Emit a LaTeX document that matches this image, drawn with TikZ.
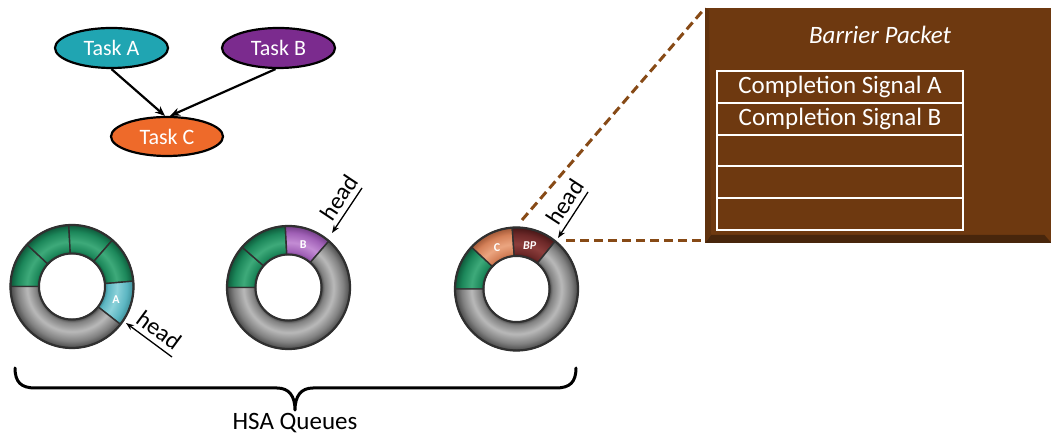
\documentclass[tikz,border=0pt]{standalone}
\usepackage{fontspec}
\setmainfont{Carlito}
\usetikzlibrary{calc,arrows.meta,shapes.geometric}

% task colours
\definecolor{taskAcol}{RGB}{32,165,178}
\definecolor{taskBcol}{RGB}{123,43,142}
\definecolor{taskCcol}{RGB}{238,106,42}
% queue slot colours (base / light / dark)
\definecolor{gBase}{RGB}{28,135,90}
\definecolor{gLight}{RGB}{62,170,122}
\definecolor{gDark}{RGB}{14,88,58}
\definecolor{yBase}{RGB}{128,128,128}
\definecolor{yLight}{RGB}{185,185,185}
\definecolor{yDark}{RGB}{72,72,72}
\definecolor{aBase}{RGB}{92,182,194}
\definecolor{aLight}{RGB}{140,210,218}
\definecolor{aDark}{RGB}{60,140,150}
\definecolor{bBase}{RGB}{160,96,182}
\definecolor{bLight}{RGB}{195,140,212}
\definecolor{bDark}{RGB}{115,62,135}
\definecolor{cBase}{RGB}{212,128,88}
\definecolor{cLight}{RGB}{235,165,128}
\definecolor{cDark}{RGB}{160,88,55}
\definecolor{pBase}{RGB}{108,40,40}
\definecolor{pLight}{RGB}{140,62,60}
\definecolor{pDark}{RGB}{70,22,22}
\definecolor{ringedge}{RGB}{48,48,48}
% barrier packet colours
\definecolor{bpbrown}{RGB}{110,57,16}
\definecolor{bpdark}{RGB}{72,38,12}
\definecolor{bpedge}{RGB}{96,50,14}
\definecolor{linkbrown}{RGB}{135,74,22}

% radial tube-like shading: the path's box maps to radius 25bp,
% so 25bp = outer radius and ~13.4bp = inner radius
\newcommand\mkslotshade[4]{%
  \pgfdeclareradialshading{#1}{\pgfpoint{0bp}{0bp}}{%
    color(0bp)=(#4); color(13.4bp)=(#4); color(14.6bp)=(#2);
    color(18.3bp)=(#3); color(22.3bp)=(#2); color(25bp)=(#4); color(50bp)=(#4)}}
\mkslotshade{slotG}{gBase}{gLight}{gDark}
\mkslotshade{slotY}{yBase}{yLight}{yDark}
\mkslotshade{slotA}{aBase}{aLight}{aDark}
\mkslotshade{slotB}{bBase}{bLight}{bDark}
\mkslotshade{slotC}{cBase}{cLight}{cDark}
\mkslotshade{slotP}{pBase}{pLight}{pDark}

% one slot of a ring queue: centre, start angle, end angle, shading
\newcommand\qslot[4]{%
  \begin{scope}
    \clip ($(#1)+(#2:61.5)$) arc[start angle=#2,end angle=#3,radius=61.5]
      -- ($(#1)+(#3:33)$) arc[start angle=#3,end angle=#2,radius=33] -- cycle;
    \shade[shading=#4] (#1) circle[radius=61.5];
  \end{scope}
  \draw[slotline] ($(#1)+(#2:61.5)$) arc[start angle=#2,end angle=#3,radius=61.5]
      -- ($(#1)+(#3:33)$) arc[start angle=#3,end angle=#2,radius=33] -- cycle;
}
\newcommand\qrim[1]{%
  \draw[ringedge, line width=2.2pt] (#1) circle[radius=61.5];
  \draw[ringedge, line width=2pt] (#1) circle[radius=33];
}

\begin{document}
\begin{tikzpicture}[x=1pt,y=1pt,
  task/.style={ellipse, draw=black, line width=2.2pt, minimum width=113pt,
    minimum height=40pt, inner sep=0pt, text=white,
    font=\fontsize{22}{24}\selectfont},
  dep/.style={-{Stealth[length=10pt,width=8pt]}, line width=2.2pt},
  headarrow/.style={-{Stealth[length=8pt,width=6pt]}, line width=1.3pt},
  headlabel/.style={font=\fontsize{24}{26}\selectfont, sloped, above=3pt, inner sep=2pt},
  slotline/.style={draw=ringedge, line width=1.4pt, line join=round},
  slotlabel/.style={text=white, font=\fontsize{12}{14}\selectfont\bfseries},
  link/.style={draw=linkbrown, line width=3pt, dash pattern=on 9pt off 5pt},
  packetrow/.style={draw=white, line width=2pt, minimum width=246pt,
    minimum height=31.8pt, inner sep=0pt, text=white,
    font=\fontsize{25}{27}\selectfont, anchor=north},
]
\useasboundingbox (0,0) rectangle (1051,438);

% ---- task dependency graph ----
\node[task, fill=taskAcol] (ta) at (111.5,390) {Task A};
\node[task, fill=taskBcol] (tb) at (278.5,390) {Task B};
\node[task, fill=taskCcol, minimum width=112pt, minimum height=39pt] (tc) at (167,301.5) {Task C};
\draw[dep] (ta.south) -- ([xshift=-2]tc.north);
\draw[dep] ([xshift=-3]tb.south) -- ([xshift=3]tc.north);

% ---- ring queues ----
\coordinate (q1) at (72,151.5);
\coordinate (q2) at (288.5,150.5);
\coordinate (q3) at (516.5,149);

% queue 1
\qslot{q1}{180}{137}{slotG}
\qslot{q1}{137}{93}{slotG}
\qslot{q1}{93}{49}{slotG}
\qslot{q1}{49}{5}{slotG}
\qslot{q1}{5}{-38}{slotA}
\qslot{q1}{-38}{-180}{slotY}
\qrim{q1}
\node[slotlabel] (la) at ($(q1)+(-17:46)$) {A};

% queue 2
\qslot{q2}{180}{139}{slotG}
\qslot{q2}{139}{93}{slotG}
\qslot{q2}{93}{49}{slotB}
\qslot{q2}{49}{-180}{slotY}
\qrim{q2}
\node[slotlabel] (lb) at ($(q2)+(71:45)$) {B};

% queue 3
\qslot{q3}{180}{137}{slotG}
\qslot{q3}{137}{94}{slotC}
\qslot{q3}{94}{51}{slotP}
\qslot{q3}{51}{-180}{slotY}
\qrim{q3}
\node[slotlabel] (lc) at ($(q3)+(115:46)$) {C};
\node[slotlabel, font=\fontsize{12}{14}\selectfont\bfseries\itshape] (lp) at ($(q3)+(73:45)$) {BP};

% head pointers
\coordinate (h1s) at (172,81);  \coordinate (h1e) at (126,115);
\coordinate (h2s) at (362,250); \coordinate (h2e) at (332,205);
\coordinate (h3s) at (588,246); \coordinate (h3e) at (558,200);
\draw[headarrow] (h1s) -- (h1e) node[headlabel, pos=0.46] (hd1) {head};
\draw[headarrow] (h2s) -- (h2e) node[headlabel, pos=0.38] (hd2) {head};
\draw[headarrow] (h3s) -- (h3e) node[headlabel, pos=0.38] (hd3) {head};

% ---- barrier packet ----
\node[fill=bpbrown, minimum width=346pt, minimum height=235pt, inner sep=0pt,
      anchor=south west] (bp) at (705,195) {};
\fill[bpdark] (bp.south west) -- (bp.south east) -- ($(bp.south east)+(-7,8)$)
  -- ($(bp.south west)+(6,8)$) -- cycle;
\fill[bpedge] (bp.south west) -- ($(bp.south west)+(6,8)$)
  -- ($(bp.north west)+(4,-3)$) -- (bp.north west) -- cycle;
\node[text=white, font=\fontsize{25}{27}\selectfont\itshape] (bpt) at (880,403) {Barrier Packet};
\node[packetrow] (r1) at (840,368)   {Completion Signal A};
\node[packetrow] (r2) at (840,336.2) {Completion Signal B};
\node[packetrow] (r3) at (840,304.4) {};
\node[packetrow] (r4) at (840,272.6) {};
\node[packetrow] (r5) at (840,240.8) {};

% zoom lines from the barrier slot to the packet
\coordinate (z1) at (522,218);
\coordinate (z2) at (566,197);
\draw[link] (z1) -- ([shift={(-3,-4)}]bp.north west);
\draw[link] (z2) -- ([shift={(-2,2)}]bp.south west);

% ---- brace under the queues ----
\coordinate (bl) at (15,70);
\coordinate (bt) at (295,28);
\coordinate (br) at (576,70);
\draw[line width=3pt, line cap=round, line join=round]
  (bl) .. controls (15,56) and (21,50) .. (35,50) -- (277,50)
  .. controls (289,50) and (295,42) .. (bt)
  .. controls (295,42) and (301,50) .. (313,50) -- (556,50)
  .. controls (570,50) and (576,56) .. (br);
\node[font=\fontsize{25}{27}\selectfont, anchor=base] (hsa) at (295,8) {HSA Queues};
\end{tikzpicture}
\end{document}
